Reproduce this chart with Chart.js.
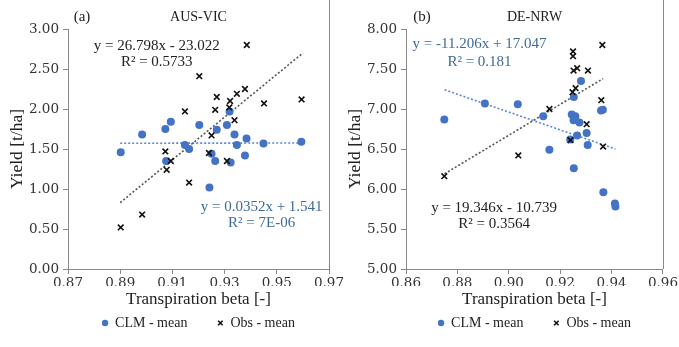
<!DOCTYPE html>
<html>
<head>
<meta charset="utf-8">
<script src="https://cdn.jsdelivr.net/npm/chart.js@4.4.1/dist/chart.umd.min.js"></script>
<style>
  html, body { margin: 0; padding: 0; background: #fff; }
  #wrap { position: relative; width: 679px; height: 347px; overflow: hidden; }
  canvas { position: absolute; top: 0; }
  #panelA { left: 0; }
  #panelB { left: 340px; }
</style>
</head>
<body>
<div id="wrap">
  <canvas id="panelA" width="360" height="347"></canvas>
  <canvas id="panelB" width="339" height="347"></canvas>
</div>
<script>
// (a) AUS-VIC
const ausClmX = [0.8902, 0.8984, 0.9073, 0.9094, 0.9076, 0.9148, 0.9164, 0.9203, 0.9242, 0.9250, 0.9264, 0.9270, 0.9309, 0.9319, 0.9323, 0.9338, 0.9347, 0.9384, 0.9378, 0.9449, 0.9594];
const ausClm = [1.46, 1.68, 1.75, 1.84, 1.35, 1.55, 1.50, 1.80, 1.02, 1.44, 1.35, 1.74, 1.80, 1.97, 1.33, 1.68, 1.55, 1.63, 1.42, 1.57, 1.59];
const ausObsX = [0.8902, 0.8984, 0.9073, 0.9078, 0.9094, 0.9148, 0.9164, 0.9203, 0.9240, 0.9250, 0.9264, 0.9270, 0.9309, 0.9321, 0.9318, 0.9338, 0.9347, 0.9378, 0.9385, 0.9451, 0.9595];
const ausObs = [0.52, 0.68, 1.47, 1.24, 1.35, 1.97, 1.08, 2.41, 1.45, 1.67, 1.99, 2.15, 1.35, 2.10, 2.02, 1.86, 2.19, 2.25, 2.80, 2.07, 2.12];
const ausTrendX = [0.890, 0.960];
const ausObsTrend = [0.83, 2.70];
const ausClmTrend = [1.572, 1.575];
const ausXTicks = [0.87, 0.97, 0.02];
const ausYTicks = [0, 3, 0.5];

// (b) DE-NRW
const nrwClmX = [0.8749, 0.8907, 0.9035, 0.9134, 0.9158, 0.9245, 0.9253, 0.9259, 0.9252, 0.9266, 0.9275, 0.9281, 0.9303, 0.9307, 0.9253, 0.9239, 0.9359, 0.9366, 0.9368, 0.9413, 0.9415];
const nrwClm = [6.87, 7.07, 7.06, 6.91, 6.49, 6.93, 7.15, 6.91, 6.86, 6.67, 6.83, 7.35, 6.70, 6.55, 6.26, 6.62, 6.98, 6.99, 5.96, 5.82, 5.78];
const nrwObsX = [0.8749, 0.9037, 0.9158, 0.9240, 0.9248, 0.9260, 0.9252, 0.9266, 0.9250, 0.9250, 0.9308, 0.9364, 0.9360, 0.9303, 0.9367];
const nrwObs = [6.16, 6.42, 7.00, 6.61, 7.21, 7.26, 7.48, 7.51, 7.66, 7.72, 7.48, 7.80, 7.11, 6.81, 6.53];
const nrwObsTrendX = [0.875, 0.9367];
const nrwObsTrend = [6.19, 7.38];
const nrwClmTrendX = [0.875, 0.9415];
const nrwClmTrend = [7.24, 6.50];
const nrwXTicks = [0.86, 0.96, 0.02];
const nrwYTicks = [5, 8, 0.5];

const SERIF = "'Liberation Serif', 'Times New Roman', serif";
const TICK_SERIF = "'DejaVu Serif', 'Liberation Serif', serif";
const BLUE = '#4472c4';
const EQ_BLUE = '#3e6a9c';
const AXIS = '#898989';

const toPoints = (xs, ys) => xs.map((x, i) => ({ x: x, y: ys[i] }));

// draws panel tag, site name, trend equations and the right-hand frame line
const panelDecor = (tag, site, notes) => ({
    id: 'panelDecor',
    afterDraw(chart) {
        const { ctx, chartArea, scales } = chart;
        ctx.save();
        ctx.strokeStyle = AXIS;
        ctx.lineWidth = 1;
        ctx.beginPath();
        ctx.moveTo(Math.round(chartArea.right) + 0.5, 0);
        ctx.lineTo(Math.round(chartArea.right) + 0.5, chartArea.bottom);
        ctx.stroke();

        ctx.textAlign = 'center';
        ctx.textBaseline = 'middle';
        ctx.fillStyle = '#222';
        ctx.font = '15px ' + SERIF;
        ctx.fillText(tag, 82, 17);
        ctx.font = '14px ' + SERIF;
        ctx.fillText(site, (chartArea.left + chartArea.right) / 2, 17);

        ctx.font = '15px ' + SERIF;
        notes.forEach(n => {
            ctx.fillStyle = n.color;
            ctx.fillText(n.text, scales.x.getPixelForValue(n.x), scales.y.getPixelForValue(n.y));
        });
        ctx.restore();
    }
});

const makePanel = (id, cfg) => {
    const ctx = document.getElementById(id).getContext('2d');
    return new Chart(ctx, {
        type: 'scatter',
        data: {
            datasets: [
                {
                    label: 'CLM - mean',
                    data: toPoints(cfg.clmX, cfg.clm),
                    pointStyle: 'circle',
                    pointRadius: 4,
                    backgroundColor: BLUE,
                    borderColor: BLUE,
                    borderWidth: 0,
                    order: 1
                }, {
                    label: 'Obs - mean',
                    data: toPoints(cfg.obsX, cfg.obs),
                    pointStyle: 'crossRot',
                    pointRadius: 4,
                    borderColor: '#111',
                    backgroundColor: '#111',
                    borderWidth: 1.6,
                    order: 0
                }, {
                    label: 'Linear (Obs - mean)',
                    data: toPoints(cfg.obsTrendX, cfg.obsTrend),
                    showLine: true,
                    pointRadius: 0,
                    borderColor: '#555',
                    borderWidth: 1.6,
                    borderDash: [2, 2],
                    order: 2
                }, {
                    label: 'Linear (CLM - mean)',
                    data: toPoints(cfg.clmTrendX, cfg.clmTrend),
                    showLine: true,
                    pointRadius: 0,
                    borderColor: '#5b86d6',
                    borderWidth: 1.6,
                    borderDash: [2, 2],
                    order: 2
                }
            ]
        },
        options: {
            responsive: false,
            animation: false,
            devicePixelRatio: 1,
            layout: { padding: { top: 29, left: 0, right: cfg.padRight, bottom: 7 } },
            scales: {
                x: {
                    type: 'linear',
                    min: cfg.xTicks[0],
                    max: cfg.xTicks[1],
                    afterFit: s => { s.height = 17; },
                    ticks: {
                        stepSize: cfg.xTicks[2],
                        padding: 1,
                        color: '#333',
                        font: { family: TICK_SERIF, size: 13.5 },
                        callback: v => v.toFixed(2)
                    },
                    grid: { drawOnChartArea: false, drawTicks: true, tickLength: 5, color: AXIS },
                    border: { display: true, color: AXIS },
                    title: {
                        display: true,
                        text: 'Transpiration beta [-]',
                        color: '#222',
                        font: { family: SERIF, size: 17 },
                        padding: { top: 0, bottom: -24 }
                    }
                },
                y: {
                    type: 'linear',
                    min: cfg.yTicks[0],
                    max: cfg.yTicks[1],
                    afterFit: s => { s.width = cfg.yWidth; },
                    ticks: {
                        stepSize: cfg.yTicks[2],
                        padding: 4,
                        color: '#333',
                        font: { family: TICK_SERIF, size: 13.5 },
                        callback: v => v.toFixed(2)
                    },
                    grid: { drawOnChartArea: false, drawTicks: true, tickLength: 5, color: AXIS },
                    border: { display: true, color: AXIS },
                    title: {
                        display: true,
                        text: 'Yield [t/ha]',
                        color: '#222',
                        font: { family: SERIF, size: 17.5 },
                        padding: { top: cfg.yTitlePad, bottom: 0 }
                    }
                }
            },
            plugins: {
                tooltip: { enabled: false },
                legend: {
                    position: 'bottom',
                    fullSize: false,
                    labels: {
                        usePointStyle: true,
                        boxWidth: 6,
                        boxHeight: 4.5,
                        padding: 30,
                        color: '#222',
                        font: { family: SERIF, size: 14 },
                        filter: item => item.datasetIndex < 2,
                        sort: (a, b) => a.datasetIndex - b.datasetIndex
                    }
                }
            }
        },
        plugins: [panelDecor(cfg.tag, cfg.site, cfg.notes)]
    });
};

makePanel('panelA', {
    tag: '(a)', site: 'AUS-VIC',
    clmX: ausClmX, clm: ausClm, obsX: ausObsX, obs: ausObs,
    obsTrendX: ausTrendX, obsTrend: ausObsTrend, clmTrendX: ausTrendX, clmTrend: ausClmTrend,
    xTicks: ausXTicks, yTicks: ausYTicks,
    padRight: 31, yWidth: 68, yTitlePad: 7,
    notes: [
        { text: 'y = 26.798x - 23.022', x: 0.904, y: 2.79, color: '#222' },
        { text: 'R\u00b2 = 0.5733', x: 0.904, y: 2.59, color: '#222' },
        { text: 'y = 0.0352x + 1.541', x: 0.9442, y: 0.78, color: EQ_BLUE },
        { text: 'R\u00b2 = 7E-06', x: 0.9442, y: 0.58, color: EQ_BLUE }
    ]
});

makePanel('panelB', {
    tag: '(b)', site: 'DE-NRW',
    clmX: nrwClmX, clm: nrwClm, obsX: nrwObsX, obs: nrwObs,
    obsTrendX: nrwObsTrendX, obsTrend: nrwObsTrend, clmTrendX: nrwClmTrendX, clmTrend: nrwClmTrend,
    xTicks: nrwXTicks, yTicks: nrwYTicks,
    padRight: 13, yWidth: 66, yTitlePad: 5,
    notes: [
        { text: 'y = -11.206x + 17.047', x: 0.8886, y: 7.816, color: EQ_BLUE },
        { text: 'R\u00b2 = 0.181', x: 0.8886, y: 7.59, color: EQ_BLUE },
        { text: 'y = 19.346x - 10.739', x: 0.8943, y: 5.766, color: '#222' },
        { text: 'R\u00b2 = 0.3564', x: 0.8943, y: 5.566, color: '#222' }
    ]
});
</script>
</body>
</html>
